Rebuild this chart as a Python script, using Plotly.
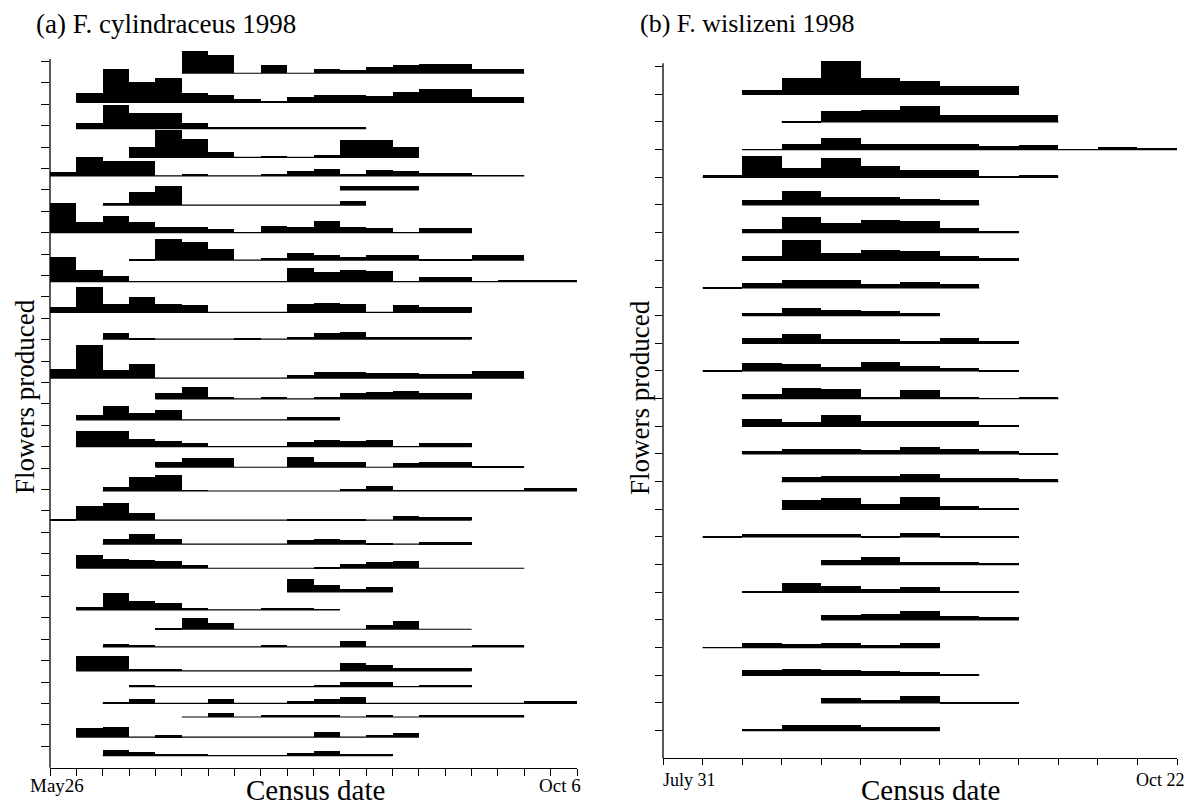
import plotly.graph_objects as go

# ---------------- data ----------------
# Panel (a): F. cylindraceus 1998 -- census intervals 0..20 (May26 .. Oct 6)
A_TITLE = "(a) F. cylindraceus 1998"
A_DATE_LABELS = ["May26", "Oct 6"]
A_N_CENSUS = 20
A_N_YTICKS = 33
# row baseline (y-axis units), first census index, flowers per interval
a_row_y = [32.45, 31.09, 29.86, 28.52, 27.65, 27.0, 26.29, 25.0, 23.72, 22.71,
           21.28, 20.03, 18.2, 17.23, 16.25, 15.0, 14.04, 12.93, 11.57, 10.45,
           9.32, 8.22, 7.37, 6.47, 5.65, 4.52, 3.79, 3.01, 2.37, 1.43, 0.56]
a_row_start = [5, 1, 1, 3, 0, 11, 2, 0, 3, 0,
               0, 2, 0, 4, 1, 1, 4, 2, 0, 2,
               1, 9, 1, 4, 2, 1, 3, 2, 5, 1, 2]
a_flowers = [
    [10.6, 8.3, 0, 4, 0, 2, 1.5, 2.8, 3.9, 4.2, 4.2, 2, 2],
    [4.2, 15.6, 9.7, 11.2, 4.2, 3.3, 1.6, 0.5, 2.3, 3.6, 3.6, 3, 5, 6.2, 6.2, 2.3, 2.3],
    [2.5, 11, 7.2, 7.2, 2.8, 1, 0.5, 0.5, 0.5, 0.5, 1],
    [5, 12.8, 8.4, 2.3, 0, 0.8, 0, 1, 8.1, 8.1, 5],
    [1.9, 8.7, 7, 7, 0, 0.8, 0, 0, 1, 2.5, 3.3, 0.5, 2.8, 2.2, 1.2, 1.2, 0.3, 0.3],
    [1.9, 1.9, 1.9],
    [1.2, 6.2, 8.9, 0, 0, 0, 0, 0, 0, 2],
    [13.7, 5.1, 7.9, 5.1, 2.5, 2.5, 1.9, 0, 3.3, 2.6, 5.6, 2.8, 2.3, 0.3, 2, 2],
    [0.6, 9.8, 8.4, 5, 0, 1.2, 3.1, 2.5, 1.6, 2.6, 2.6, 0.3, 0.3, 2.3, 2.3],
    [11.4, 5.5, 2.6, 0, 0, 0, 0, 0, 0, 6.2, 4.7, 5.5, 5, 0.3, 2, 2, 0, 0.4, 1, 1],
    [2.6, 11.7, 3.9, 7.3, 3.9, 3.4, 0, 0, 0, 3.7, 4.2, 3.7, 0, 3.4, 2.3, 2.3],
    [3, 0.5, 0, 0, 0, 0.4, 0, 1, 2.6, 3.1, 1, 1, 1, 1],
    [4.2, 15.3, 3.9, 6.5, 0, 0, 0, 0, 0, 1.6, 2.8, 2.8, 2.3, 2.3, 1.9, 1.9, 3.4, 3.4],
    [3, 5.8, 0.8, 0, 0.6, 0, 0.6, 2.6, 3.3, 3.9, 3, 3],
    [2.3, 6.7, 3.4, 4.7, 0, 0, 0, 0, 1.6, 1.6],
    [7.3, 7.3, 3.6, 2.8, 1.9, 0, 0, 0, 2, 3.1, 2.5, 3.1, 0, 1.7, 1.7],
    [2.6, 4.2, 4.2, 0, 0, 4.7, 2.5, 2.5, 0, 2.2, 2.6, 2.6, 0.5, 0.5],
    [1.7, 6.7, 7.5, 0.3, 0, 0, 0, 0, 0, 0.6, 2.3, 0.3, 0.3, 0.3, 0.3, 0.3, 1.2, 1.2],
    [0.5, 6.5, 8.1, 3.1, 0, 0, 0, 0, 0, 0.6, 0.6, 0.6, 0, 1.9, 1.4, 1.4],
    [2.2, 4.5, 2.6, 0, 0, 0, 0, 1.9, 2.3, 1.7, 0.5, 0, 0.9, 0.9],
    [6.2, 4.4, 3.9, 3.3, 1.6, 0, 0, 0, 0, 0.5, 1.9, 3, 3.6, 0, 0, 0, 0],
    [5.8, 3, 1.2, 2.3],
    [1.6, 8.1, 4.4, 3.1, 0.6, 0, 0, 0.5, 1.1, 0.3],
    [0.6, 5.1, 2.8, 0, 0, 0, 0, 0, 2, 3.9, 0, 0],
    [1.2, 0.6, 0, 0, 0, 0, 0.6, 0, 0, 2.6, 0, 0, 0, 0, 0.6, 0.6],
    [7, 7, 0.8, 0.8, 0, 0, 0, 0, 0, 0, 3.7, 2.6, 1.2, 1.2, 1.2],
    [0.6, 0, 0, 0, 0, 0, 0, 0.6, 2.3, 2.3, 0, 0.8, 0.8],
    [0.6, 1.9, 0, 0, 1.9, 0, 0, 1.1, 1.9, 2.8, 0, 0, 0, 0, 0, 0, 1.1, 1.1],
    [0, 1.7, 0, 0.5, 0.5, 0.5, 0, 0.5, 0, 0.6, 0.6, 0.6, 0.6],
    [4.2, 4.7, 0, 0.8, 0, 0, 0, 0, 0, 2.3, 0, 1.2, 1.9],
    [2.7, 1.6, 0.6, 0.6, 0, 0, 0, 1.2, 2.1, 0.6, 0.6],
]

# Panel (b): F. wislizeni 1998 -- census intervals 0..13 (July 31 .. Oct 22)
B_TITLE = "(b) F. wislizeni 1998"
B_DATE_LABELS = ["July 31", "Oct 22"]
B_N_CENSUS = 13
B_N_YTICKS = 25
b_row_y = list(range(24, 0, -1))
b_row_start = [2, 3, 2, 1, 2, 2, 2, 1, 2, 2, 1, 2, 2, 2, 3, 3, 1, 4, 2, 4, 1, 2, 4, 2]
b_flowers = [
    [1.5, 6, 12, 6, 5, 3, 3],
    [0.5, 4, 4.5, 5.7, 2.5, 2.5, 2.5],
    [0.3, 2.2, 4.2, 2.2, 2.2, 2.2, 1.4, 1.9, 0.3, 1.2, 0.4],
    [1, 7.7, 3.6, 7, 4.2, 2.7, 2.7, 0.3, 1],
    [1.8, 5, 3.1, 3.1, 2.2, 1.8],
    [1.5, 5.7, 3.5, 4.7, 4.2, 1.7, 0.8],
    [1.8, 7.5, 2.8, 3.9, 3.4, 1.8, 0.8],
    [0.3, 2, 3, 3, 1.5, 2.2, 1.6],
    [1, 2.8, 2, 1.7, 1],
    [1.9, 3.4, 1.6, 1.6, 1, 1.9, 1],
    [0.3, 3, 2.7, 1.5, 3.3, 2, 1.2, 0.5],
    [1.7, 3.9, 3.7, 0.4, 3.3, 0.8, 0.3, 0.4],
    [2.8, 1.5, 4.1, 1.9, 1.9, 1.9, 0.3],
    [1.1, 2, 2, 1.6, 2.7, 1.8, 1.3, 0.6],
    [1.8, 2.3, 2.3, 3, 1.5, 1.5, 1.1],
    [3.6, 4.2, 2, 4.6, 1.2, 0.3],
    [0.3, 1, 1, 1, 0.5, 1.6, 0.5, 0.3],
    [1.8, 3, 1.2, 1.2, 0.7],
    [0.3, 3.6, 2.3, 1.4, 1.9, 0.7, 0.7],
    [1.8, 2.4, 3.4, 1.7, 1],
    [0.3, 1.8, 1.3, 1.8, 1, 1.9],
    [1.9, 2.5, 2, 1.6, 1.2, 0.4],
    [2, 1.1, 2.7, 0.3, 0.6],
    [0.4, 2, 2, 1.6, 1.6],
]

Y_LABEL = "Flowers produced"
X_LABEL = "Census date"
FLOWER_SCALE = 0.1   # y-axis units per flower unit

# ---------------- figure ----------------
# the page body has an 8px default margin; size the figure so it fits the window
OFF = 8
W, H = 1200 - OFF, 810 - OFF
FONT = "Liberation Serif, Times New Roman, serif"


def fx(px):
    return (px - OFF) / W


def fy(py):
    return 1 - (py - OFF) / H


fig = go.Figure()


def add_panel(row_y, row_start, flowers, xa, ya):
    lx, ly = [], []
    bx, bb, bh = [], [], []
    for y0, s, hs in zip(row_y, row_start, flowers):
        lx += [s, s + len(hs), None]
        ly += [y0, y0, None]
        for k, h in enumerate(hs):
            if h > 0:
                bx.append(s + k + 0.5)
                bb.append(y0)
                bh.append(h * FLOWER_SCALE)
    fig.add_trace(go.Scatter(x=lx, y=ly, mode="lines",
                             line=dict(color="black", width=1.2),
                             xaxis=xa, yaxis=ya, hoverinfo="skip",
                             showlegend=False))
    fig.add_trace(go.Bar(x=bx, y=bh, base=bb, width=1.0,
                         marker=dict(color="black", line=dict(width=0)),
                         xaxis=xa, yaxis=ya, showlegend=False))


add_panel(a_row_y, a_row_start, a_flowers, "x", "y")
add_panel(b_row_y, b_row_start, b_flowers, "x2", "y2")

# panel geometry (window pixels)
A_LEFT, A_RIGHT, A_BOTTOM, A_TOP = 50, 577, 767.7, 36
A_YTOP = 34.19
B_LEFT, B_RIGHT, B_BOTTOM, B_TOP = 663, 1177, 758.3, 52.7
B_YTOP = 25.5

xcommon = dict(showgrid=False, zeroline=False, showticklabels=False,
               ticks="outside", tickcolor="black", tickwidth=1.3,
               showline=True, linecolor="black", linewidth=1.3)
ycommon = dict(showgrid=False, zeroline=False, showticklabels=False,
               ticks="outside", tickcolor="black", tickwidth=1.3,
               showline=False)

fig.update_layout(
    width=W, height=H, margin=dict(l=0, r=0, t=0, b=0),
    paper_bgcolor="white", plot_bgcolor="rgba(0,0,0,0)",
    barmode="overlay", bargap=0, showlegend=False,
    font=dict(family=FONT, color="black"),
    xaxis=dict(domain=[fx(A_LEFT), fx(A_RIGHT)], range=[0, A_N_CENSUS],
               tickvals=list(range(A_N_CENSUS + 1)), ticklen=7,
               anchor="y", **xcommon),
    yaxis=dict(domain=[fy(A_BOTTOM), fy(A_TOP)], range=[0, A_YTOP],
               tickvals=list(range(1, A_N_YTICKS + 1)), ticklen=8,
               anchor="x", **ycommon),
    xaxis2=dict(domain=[fx(B_LEFT), fx(B_RIGHT)], range=[0, B_N_CENSUS],
                tickvals=list(range(B_N_CENSUS + 1)), ticklen=6,
                anchor="y2", **xcommon),
    yaxis2=dict(domain=[fy(B_BOTTOM), fy(B_TOP)], range=[0, B_YTOP],
                tickvals=list(range(1, B_N_YTICKS + 1)), ticklen=7,
                anchor="x2", **ycommon),
)


# y axis lines stop just above the top tick
def yline(left, bottom, top, ytop, ntick):
    frac = (ntick + 0.12) / ytop
    y1 = fy(bottom) + frac * (fy(top) - fy(bottom))
    fig.add_shape(type="line", xref="paper", yref="paper",
                  x0=fx(left), x1=fx(left), y0=fy(bottom), y1=y1,
                  line=dict(color="black", width=1.3))


yline(A_LEFT, A_BOTTOM, A_TOP, A_YTOP, A_N_YTICKS)
yline(B_LEFT, B_BOTTOM, B_TOP, B_YTOP, B_N_YTICKS)


def note(text, x, y, size, angle=0, xanchor="center"):
    fig.add_annotation(text=text, xref="paper", yref="paper",
                       x=fx(x), y=fy(y), xanchor=xanchor, yanchor="middle",
                       showarrow=False, textangle=angle, borderpad=0,
                       font=dict(family=FONT, size=size, color="black"))


note(A_TITLE, 35, 24, 27, xanchor="left")
note(B_TITLE, 639, 24, 26, xanchor="left")
note(Y_LABEL, 25, 397, 27, angle=-90)
note(Y_LABEL, 640, 398, 27, angle=-90)
note(X_LABEL, 315, 790, 29)
note(X_LABEL, 930, 790, 29)
note(A_DATE_LABELS[0], 57, 785, 19)
note(A_DATE_LABELS[1], 560, 785, 19)
note(B_DATE_LABELS[0], 689, 780, 18)
note(B_DATE_LABELS[1], 1160, 780, 18)

fig.write_html("out.html")
